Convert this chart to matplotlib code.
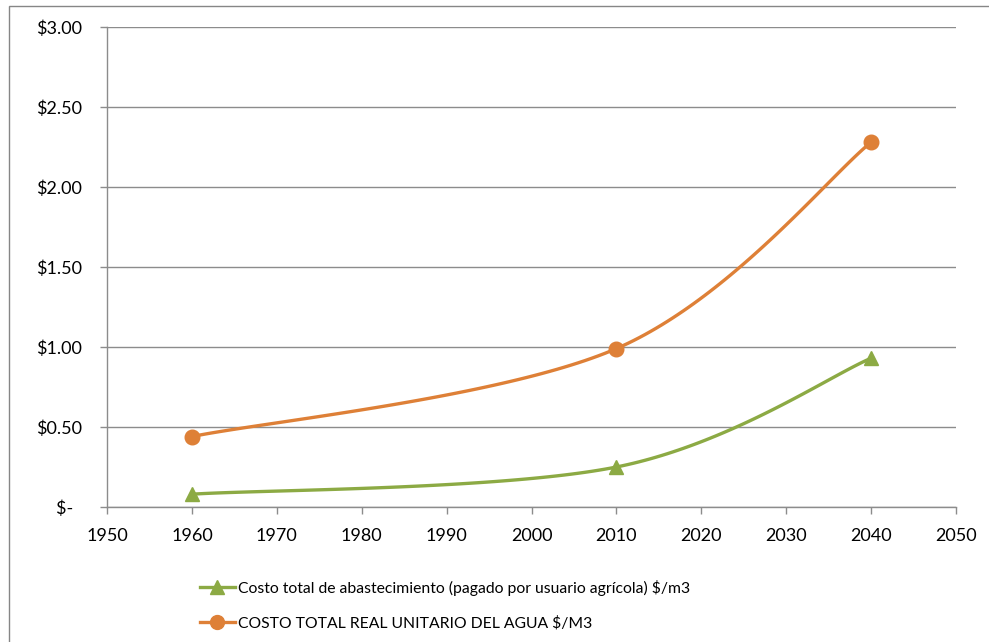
import numpy as np
import matplotlib
matplotlib.use("Agg")
import matplotlib.pyplot as plt
from matplotlib.patches import Rectangle
from matplotlib.lines import Line2D

# data
years = [1960, 2010, 2040]
costo_abastecimiento = [0.08, 0.25, 0.93]
costo_real = [0.44, 0.99, 2.28]
xticks = [1950, 1960, 1970, 1980, 1990, 2000, 2010, 2020, 2030, 2040, 2050]
yticks = [0.0, 0.5, 1.0, 1.5, 2.0, 2.5, 3.0]
ytick_labels = ["$-  ", "$0.50", "$1.00", "$1.50", "$2.00", "$2.50", "$3.00"]
label_green = "Costo total de abastecimiento (pagado por usuario agrícola) $/m3"
label_orange = "COSTO TOTAL REAL UNITARIO DEL AGUA $/M3"

GREEN = "#8CAA44"
ORANGE = "#DE8037"
GRAY = "#8C8C8C"

plt.rcParams['font.family'] = ['Lato', 'DejaVu Sans']


def smooth(xs, ys, n=60):
    """Excel-like smoothed line: cubic bezier with catmull-rom controls."""
    p = np.column_stack([xs, ys]).astype(float)
    pts = np.vstack([p[0], p, p[-1]])
    out = []
    t = np.linspace(0, 1, n)[:, None]
    for i in range(1, len(pts) - 2):
        p0, p1 = pts[i], pts[i + 1]
        c1 = p0 + (pts[i + 1] - pts[i - 1]) / 6
        c2 = p1 - (pts[i + 2] - pts[i]) / 6
        seg = ((1 - t) ** 3) * p0 + 3 * ((1 - t) ** 2) * t * c1 \
            + 3 * (1 - t) * t ** 2 * c2 + t ** 3 * p1
        out.append(seg if i == 1 else seg[1:])
    out = np.vstack(out)
    return out[:, 0], out[:, 1]


fig = plt.figure(figsize=(9.89, 6.42), dpi=100)
ax = fig.add_axes([107 / 989, 1 - 507 / 642, (956 - 107) / 989, (507 - 27) / 642])

# outer chart border
fig.patches.append(Rectangle((9 / 989, -0.1), 1.2, 1 - 6 / 642 + 0.1,
                             transform=fig.transFigure, fill=False,
                             edgecolor="#868686", linewidth=1.0))

for xs, ys, col, mk in [(years, costo_abastecimiento, GREEN, "^"),
                        (years, costo_real, ORANGE, "o")]:
    sx, sy = smooth(xs, ys)
    ax.plot(sx, sy, color=col, linewidth=2.4, solid_capstyle="round", zorder=3)
    ax.plot(xs, ys, linestyle="none", marker=mk, markersize=10.5,
            color=col, markeredgecolor=col, zorder=4, clip_on=False)

ax.set_xlim(1950, 2050)
ax.set_ylim(0, 3.0)
ax.set_xticks(xticks)
ax.set_yticks(yticks)
ax.set_yticklabels(ytick_labels)
ax.yaxis.grid(True, color=GRAY, linewidth=1.0)
ax.set_axisbelow(True)
for s in ["top", "right"]:
    ax.spines[s].set_visible(False)
for s in ["left", "bottom"]:
    ax.spines[s].set_color(GRAY)
    ax.spines[s].set_linewidth(1.0)
ax.tick_params(axis="both", colors=GRAY, labelcolor="black", labelsize=13,
               length=5, width=1.0)
ax.tick_params(axis="y", pad=13)
ax.tick_params(axis="x", pad=10)

handles = [Line2D([], [], color=GREEN, linewidth=2.4, marker="^", markersize=10),
           Line2D([], [], color=ORANGE, linewidth=2.4, marker="o", markersize=10)]
fig.legend(handles, [label_green, label_orange], loc="center left",
           bbox_to_anchor=(186 / 989, 1 - 605 / 642), frameon=False,
           fontsize=11.3, handlelength=2.2, handletextpad=0.2, labelspacing=1.25)

fig.savefig("out.png", dpi=100)
